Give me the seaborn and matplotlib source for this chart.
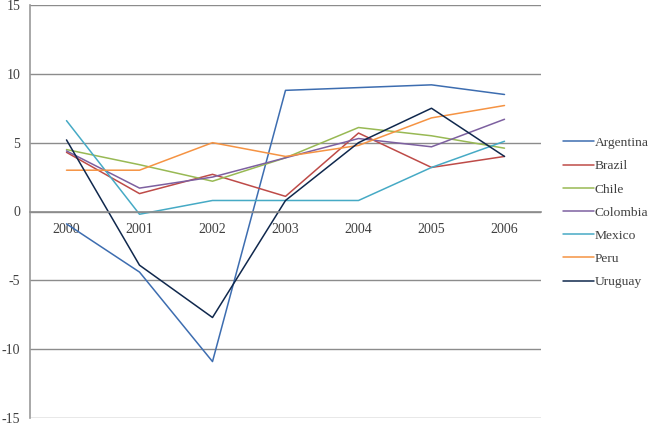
import numpy as np
import matplotlib.pyplot as plt
import seaborn as sns
import pandas as pd
from matplotlib.ticker import FixedLocator

# -----------------------------
# Data
# -----------------------------
years = [2000, 2001, 2002, 2003, 2004, 2005, 2006]
countries = ["Argentina", "Brazil", "Chile", "Colombia", "Mexico", "Peru", "Uruguay"]

argentina = [-0.9, -4.4, -10.9, 8.8, 9.0, 9.2, 8.5]
brazil = [4.3, 1.3, 2.7, 1.1, 5.7, 3.2, 4.0]
chile = [4.5, 3.4, 2.2, 3.9, 6.1, 5.5, 4.6]
colombia = [4.4, 1.7, 2.5, 3.9, 5.3, 4.7, 6.7]
mexico = [6.6, -0.2, 0.8, 0.8, 0.8, 3.2, 5.1]
peru = [3.0, 3.0, 5.0, 4.0, 4.8, 6.8, 7.7]
uruguay = [5.2, -3.9, -7.7, 0.8, 5.0, 7.5, 4.0]

series = [argentina, brazil, chile, colombia, mexico, peru, uruguay]
colors = ["#3D6DB0", "#BE4B48", "#98B954", "#7D60A0", "#46AAC5", "#F59343", "#10284D"]

rows = []
for name, vals in zip(countries, series):
    for yr, v in zip(years, vals):
        rows.append({"year": yr, "country": name, "value": v})
df = pd.DataFrame(rows)

# -----------------------------
# Plot
# -----------------------------
sns.set_style("white")
plt.rcParams["font.family"] = ["Liberation Serif", "DejaVu Serif"]
plt.rcParams["axes.unicode_minus"] = False

fig = plt.figure(figsize=(6.5, 4.25), dpi=100)
ax = fig.add_axes([30 / 650, 7 / 425, 511 / 650, 413 / 425])

sns.lineplot(
    data=df, x="year", y="value", hue="country",
    hue_order=countries, palette=colors, linewidth=1.1, ax=ax,
)

ax.set_xlim(years[0] - 0.5, years[-1] + 0.5)
ax.set_ylim(-15, 15)
ax.set_yticks(np.arange(-15, 16, 5))
ax.yaxis.grid(True, color="#8C8C8C", linewidth=1.0)
ax.set_axisbelow(True)

for s in ["top", "right"]:
    ax.spines[s].set_visible(False)
ax.spines["left"].set_color("#9A9A9A")
ax.spines["left"].set_linewidth(1.2)
ax.spines["bottom"].set_position(("data", 0))
ax.spines["bottom"].set_color("#8C8C8C")
ax.spines["bottom"].set_linewidth(1.2)

ax.set_xticks(years)
ax.set_xticklabels([str(y) for y in years])
ax.xaxis.set_minor_locator(FixedLocator([y + 0.5 for y in years]))
ax.tick_params(axis="x", which="major", length=0, pad=8, labelsize=10, labelcolor="#404040")
ax.tick_params(axis="x", which="minor", direction="in", length=4, color="#8C8C8C", width=1)
ax.tick_params(axis="y", length=0, pad=7, labelsize=10, labelcolor="#404040")

ax.set_xlabel("")
ax.set_ylabel("")

handles, labels = ax.get_legend_handles_labels()
ax.legend(
    handles, labels, loc="center left", bbox_to_anchor=(563 / 650, 0.5),
    bbox_transform=fig.transFigure, borderaxespad=0, borderpad=0,
    frameon=False, fontsize=9.7, handlelength=2.3, handletextpad=0.03,
    labelspacing=0.8, labelcolor="#404040",
)

fig.savefig("out.png", dpi=100)
